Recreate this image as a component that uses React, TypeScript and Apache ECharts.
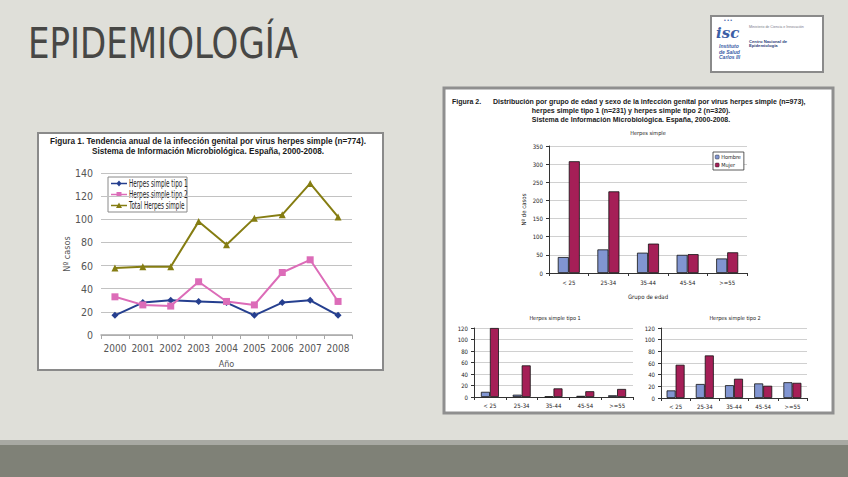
import React, { useEffect, useRef } from "react";
import * as echarts from "echarts";

const years = ["2000", "2001", "2002", "2003", "2004", "2005", "2006", "2007", "2008"];
const tipo1Line = [17, 28, 30, 29, 28, 17, 28, 30, 17];
const tipo2Line = [33, 26, 25, 46, 29, 26, 54, 65, 29];
const totalLine = [58, 59, 59, 98, 78, 101, 104, 131, 102];
const lineNames = ["Herpes simple tipo 1", "Herpes simple tipo 2", "Total Herpes simple"];

const ageGroups = ["< 25", "25-34", "35-44", "45-54", ">=55"];
const hsHombre = [44, 65, 56, 50, 40];
const hsMujer = [308, 225, 81, 52, 57];
const t1Hombre = [9, 4, 1, 2, 3];
const t1Mujer = [120, 55, 15, 10, 14];
const t2Hombre = [13, 24, 22, 25, 27];
const t2Mujer = [57, 73, 33, 21, 26];

const NARROW = '"DejaVu Sans Condensed", "Liberation Sans Narrow", sans-serif';
const SANS = '"Liberation Sans", Arial, sans-serif';

const C_T1 = "#253f8f";
const C_T2 = "#dc6cb8";
const C_TOT = "#857d12";
const C_H = "#8195d1";
const C_M = "#a51f57";

function txt(x: number, y: number, text: string, font: string, fill: string, align = "left", extra: any = {}, scaleX = 1) {
  return {
    type: "text",
    x,
    y,
    scaleX,
    silent: true,
    style: { text, font, fill, textAlign: align, textVerticalAlign: "middle", ...extra },
  };
}

function smallBarAxes(gridIndex: number) {
  return {
    x: {
      type: "category",
      gridIndex,
      data: ageGroups,
      axisLine: { lineStyle: { color: "#333", width: 1 } },
      axisTick: { show: true, length: 3, lineStyle: { color: "#333" } },
      axisLabel: { fontSize: 6, fontFamily: NARROW, color: "#222", margin: 5, interval: 0 },
    },
    y: {
      type: "value",
      gridIndex,
      min: 0,
      max: 120,
      interval: 20,
      axisLine: { show: true, lineStyle: { color: "#333", width: 1 } },
      axisTick: { show: true, length: 3, lineStyle: { color: "#333" } },
      axisLabel: { fontSize: 6, fontFamily: NARROW, color: "#222", margin: 6 },
      splitLine: { lineStyle: { color: "#c4c4c4", width: 0.8 } },
    },
  };
}

// hand-drawn legend for the line chart (narrow text)
function lineLegend() {
  const items: any[] = [];
  const x0 = 108;
  const y0 = 177;
  items.push({ type: "rect", silent: true, shape: { x: x0, y: y0, width: 79, height: 35 }, style: { fill: "#fff", stroke: "#8a8a8a", lineWidth: 1 } });
  const colors = [C_T1, C_T2, C_TOT];
  colors.forEach((c, i) => {
    const y = y0 + 6.5 + i * 11;
    items.push({ type: "line", silent: true, shape: { x1: x0 + 3, y1: y, x2: x0 + 19, y2: y }, style: { stroke: c, lineWidth: 1.5 } });
    const cx = x0 + 11;
    if (i === 0) {
      items.push({ type: "polygon", silent: true, shape: { points: [[cx, y - 3], [cx + 2.5, y], [cx, y + 3], [cx - 2.5, y]] }, style: { fill: c } });
    } else if (i === 1) {
      items.push({ type: "rect", silent: true, shape: { x: cx - 2.5, y: y - 2.5, width: 5, height: 5 }, style: { fill: c } });
    } else {
      items.push({ type: "polygon", silent: true, shape: { points: [[cx, y - 3], [cx + 3, y + 2.5], [cx - 3, y + 2.5]] }, style: { fill: c } });
    }
    items.push({
      type: "text",
      silent: true,
      x: x0 + 21,
      y,
      scaleX: 0.6,
      style: { text: lineNames[i], font: `10.5px ${NARROW}`, fill: "#222", textVerticalAlign: "middle" },
    });
  });
  return items;
}

export default function App() {
  const ref = useRef<HTMLDivElement>(null);
  useEffect(() => {
    if (!ref.current) return;
    const chart = echarts.init(ref.current, null, { renderer: "svg" });
    const s1 = smallBarAxes(2);
    const s2 = smallBarAxes(3);
    const barStyle = (c: string) => ({ color: c, borderColor: "#111", borderWidth: 0.8 });

    const option: any = {
      animation: false,
      backgroundColor: "#dfdfd9",
      graphic: [
        // bottom band
        { type: "rect", silent: true, shape: { x: 0, y: 440, width: 848, height: 5 }, style: { fill: "#a8a9a3" } },
        { type: "rect", silent: true, shape: { x: 0, y: 445, width: 848, height: 32 }, style: { fill: "#7f8177" } },
        // title
        txt(
          28,
          43,
          "EPIDEMIOLOGÍA",
          `43px ${NARROW}`,
          "#474745",
          "left",
          { shadowColor: "rgba(0,0,0,0.35)", shadowBlur: 3, shadowOffsetX: 1.5, shadowOffsetY: 2 },
          0.88
        ),
        // logo box
        { type: "rect", silent: true, shape: { x: 711, y: 16, width: 112, height: 56 }, style: { fill: "#ffffff", stroke: "#8a8a8a", lineWidth: 2 } },
        txt(724, 20, "• • •", `5px ${SANS}`, "#3c5ea6"),
        txt(716, 33, "isc", `italic bold 15px "DejaVu Serif", serif`, "#3c5ea6"),
        txt(749, 27, "Ministerio de Ciencia e Innovación", `3.6px ${SANS}`, "#7a7a8a"),
        txt(749, 41, "Centro Nacional de", `bold 4.2px ${SANS}`, "#2d3e78"),
        txt(749, 45.5, "Epidemiología", `bold 4.2px ${SANS}`, "#2d3e78"),
        txt(719, 46, "Instituto", `italic bold 5px ${SANS}`, "#3c5ea6"),
        txt(719, 51.5, "de Salud", `italic bold 5px ${SANS}`, "#3c5ea6"),
        txt(719, 57, "Carlos III", `italic bold 5px ${SANS}`, "#3c5ea6"),
        // left panel
        { type: "rect", silent: true, shape: { x: 38, y: 133, width: 345, height: 237 }, style: { fill: "#ffffff", stroke: "#8a8a8a", lineWidth: 2 } },
        txt(208, 141.5, "Figura 1. Tendencia anual de la infección genital por virus herpes simple (n=774).", `bold 8.2px ${SANS}`, "#1a1a1a", "center"),
        txt(208, 151.5, "Sistema de Información Microbiológica. España, 2000-2008.", `bold 8.2px ${SANS}`, "#1a1a1a", "center"),
        // right panel
        { type: "rect", silent: true, shape: { x: 444, y: 88, width: 389, height: 325 }, style: { fill: "#ffffff", stroke: "#8f8f8f", lineWidth: 3 } },
        txt(452, 101, "Figura 2.", `bold 7px ${SANS}`, "#1a1a1a"),
        txt(493, 101, "Distribución por grupo de edad y sexo de la infección genital por virus herpes simple (n=973),", `bold 7px ${SANS}`, "#1a1a1a"),
        txt(631, 110, "herpes simple tipo 1 (n=231) y herpes simple tipo 2 (n=320).", `bold 7px ${SANS}`, "#1a1a1a", "center"),
        txt(631, 119, "Sistema de Información Microbiológica. España, 2000-2008.", `bold 7px ${SANS}`, "#1a1a1a", "center"),
        txt(648, 133, "Herpes simple", `5.5px ${NARROW}`, "#222", "center"),
        txt(555, 318, "Herpes simple tipo 1", `5.5px ${NARROW}`, "#222", "center"),
        txt(735, 318, "Herpes simple tipo 2", `5.5px ${NARROW}`, "#222", "center"),
        ...lineLegend(),
      ],
      legend: [
        {
          data: ["Hombre", "Mujer"],
          left: 713,
          top: 152,
          orient: "vertical",
          itemGap: 2,
          itemWidth: 4,
          itemHeight: 4,
          padding: [2, 3, 2, 2],
          backgroundColor: "#ffffff",
          borderColor: "#333",
          borderWidth: 0.8,
          itemStyle: { borderWidth: 0.4, borderColor: "#111" },
          textStyle: { fontSize: 5.5, fontFamily: NARROW, color: "#222", padding: [0, 0, 0, -3] },
        },
      ],
      grid: [
        { left: 101, top: 173, width: 251, height: 162, show: true, borderColor: "#a8a8a8", borderWidth: 1.5, backgroundColor: "transparent" },
        { left: 549, top: 146, width: 198, height: 127, show: true, borderColor: "#9a9a9a", borderWidth: 0.8 },
        { left: 474, top: 328, width: 159, height: 69, show: true, borderColor: "#9a9a9a", borderWidth: 0.8 },
        { left: 661, top: 328, width: 146, height: 70, show: true, borderColor: "#9a9a9a", borderWidth: 0.8 },
      ],
      xAxis: [
        {
          type: "category",
          gridIndex: 0,
          data: years,
          name: "Año",
          nameLocation: "middle",
          nameGap: 24,
          nameTextStyle: { fontSize: 9, fontFamily: NARROW, color: "#555" },
          axisLine: { lineStyle: { color: "#a8a8a8", width: 1.5 } },
          axisTick: { show: true, length: 4, lineStyle: { color: "#a8a8a8" } },
          axisLabel: { fontSize: 10, fontFamily: NARROW, color: "#555", margin: 8, interval: 0 },
        },
        {
          type: "category",
          gridIndex: 1,
          data: ageGroups,
          name: "Grupo de edad",
          nameLocation: "middle",
          nameGap: 20,
          nameTextStyle: { fontSize: 6, fontFamily: NARROW, color: "#222" },
          axisLine: { lineStyle: { color: "#333", width: 1 } },
          axisTick: { show: true, length: 3, lineStyle: { color: "#333" } },
          axisLabel: { fontSize: 6, fontFamily: NARROW, color: "#222", margin: 6, interval: 0 },
        },
        s1.x,
        s2.x,
      ],
      yAxis: [
        {
          type: "value",
          gridIndex: 0,
          min: 0,
          max: 140,
          interval: 20,
          name: "Nº casos",
          nameLocation: "middle",
          nameGap: 25,
          nameRotate: 90,
          nameTextStyle: { fontSize: 9, fontFamily: NARROW, color: "#555" },
          axisLine: { show: false },
          axisTick: { show: false },
          axisLabel: { fontSize: 10.5, fontFamily: NARROW, color: "#555", margin: 8 },
          splitLine: { lineStyle: { color: "#c2c2c2", width: 1 } },
        },
        {
          type: "value",
          gridIndex: 1,
          min: 0,
          max: 350,
          interval: 50,
          name: "Nº de casos",
          nameLocation: "middle",
          nameGap: 23,
          nameRotate: 90,
          nameTextStyle: { fontSize: 6, fontFamily: NARROW, color: "#222" },
          axisLine: { show: true, lineStyle: { color: "#333", width: 1 } },
          axisTick: { show: true, length: 3, lineStyle: { color: "#333" } },
          axisLabel: { fontSize: 6, fontFamily: NARROW, color: "#222", margin: 6 },
          splitLine: { lineStyle: { color: "#c4c4c4", width: 0.8 } },
        },
        s1.y,
        s2.y,
      ],
      series: [
        {
          name: lineNames[0],
          type: "line",
          xAxisIndex: 0,
          yAxisIndex: 0,
          data: tipo1Line,
          symbol: "diamond",
          symbolSize: 7,
          lineStyle: { color: C_T1, width: 2 },
          itemStyle: { color: C_T1 },
        },
        {
          name: lineNames[1],
          type: "line",
          xAxisIndex: 0,
          yAxisIndex: 0,
          data: tipo2Line,
          symbol: "rect",
          symbolSize: 7,
          lineStyle: { color: C_T2, width: 2 },
          itemStyle: { color: C_T2 },
        },
        {
          name: lineNames[2],
          type: "line",
          xAxisIndex: 0,
          yAxisIndex: 0,
          data: totalLine,
          symbol: "triangle",
          symbolSize: 7,
          lineStyle: { color: C_TOT, width: 2 },
          itemStyle: { color: C_TOT },
        },
        { name: "Hombre", type: "bar", xAxisIndex: 1, yAxisIndex: 1, data: hsHombre, barWidth: 11, barGap: "0%", itemStyle: barStyle(C_H) },
        { name: "Mujer", type: "bar", xAxisIndex: 1, yAxisIndex: 1, data: hsMujer, barWidth: 11, barGap: "0%", itemStyle: barStyle(C_M) },
        { name: "Hombre", type: "bar", xAxisIndex: 2, yAxisIndex: 2, data: t1Hombre, barWidth: 9, barGap: "0%", itemStyle: barStyle(C_H) },
        { name: "Mujer", type: "bar", xAxisIndex: 2, yAxisIndex: 2, data: t1Mujer, barWidth: 9, barGap: "0%", itemStyle: barStyle(C_M) },
        { name: "Hombre", type: "bar", xAxisIndex: 3, yAxisIndex: 3, data: t2Hombre, barWidth: 9, barGap: "0%", itemStyle: barStyle(C_H) },
        { name: "Mujer", type: "bar", xAxisIndex: 3, yAxisIndex: 3, data: t2Mujer, barWidth: 9, barGap: "0%", itemStyle: barStyle(C_M) },
      ],
    };
    chart.setOption(option);
    return () => chart.dispose();
  }, []);
  return <div ref={ref} style={{ position: "absolute", left: 0, top: 0, width: 848, height: 477 }} />;
}
